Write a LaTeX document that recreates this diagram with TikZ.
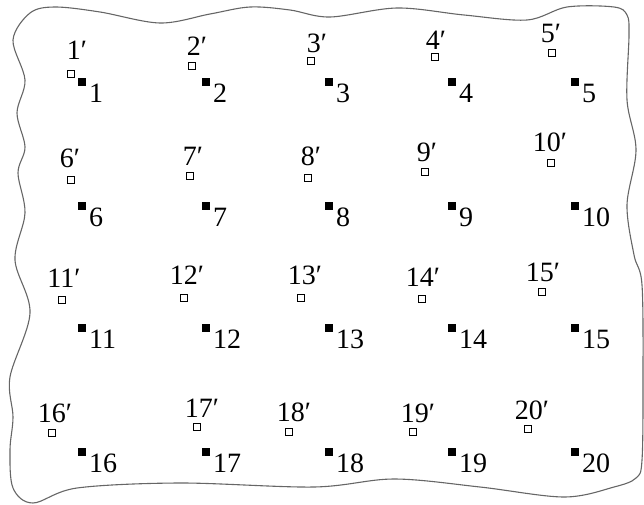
\documentclass[tikz,border=0pt]{standalone}
\usepackage{fontspec}
\setmainfont{Liberation Serif}
\begin{document}
\begin{tikzpicture}[x=1pt,y=-1pt,
  full/.style={rectangle,fill=black,minimum size=7.5pt,inner sep=0pt},
  hollow/.style={rectangle,draw=black,fill=white,line width=1.1pt,minimum size=6.5pt,inner sep=0pt},
  lab/.style={font=\fontsize{28}{28}\selectfont,inner sep=0pt},
  border/.style={draw=black!60,line width=1.1pt}]
\useasboundingbox (0,0) rectangle (644,505);
\draw[border] plot[smooth cycle,tension=0.55] coordinates {
 (30,13) (55,7) (100,12) (160,23) (210,14) (250,7) (290,10) (330,17) (397,8)
 (464,15) (527,20) (567,7) (614,7) (627,15) (629,35) (627,100) (636,150)
 (627,205) (634,255) (642,285) (643,380) (642,460) (636,478) (614,487)
 (564,497) (480,487) (394,479) (314,487) (180,483) (77,488) (33,503)
 (13,488) (10,450) (13,417) (10,377) (30,313) (15,260) (25,213) (18,173)
 (25,147) (17,113) (25,80) (13,40)};
\foreach \i/\fx/\fy/\ox/\oy/\px/\py in {
 1/82/82/71/74/77/50, 2/206/82/192/66/197/46, 3/329/82/311/61/317/43,
 4/452/82/435/57/436/40, 5/575/82/552/53/551/33,
 6/82/206/71/180/70/158, 7/206/206/190/176/193/156, 8/329/206/308/178/311/156,
 9/452/206/425/172/427/152, 10/575/206/551/163/550/142,
 11/82/328/62/300/64/278, 12/206/328/184/298/187/275, 13/329/328/301/298/305/275,
 14/452/328/422/299/423/277, 15/575/328/542/292/543/272,
 16/82/452/52/433/55/413, 17/206/452/197/427/202/408, 18/329/452/289/432/294/412,
 19/452/452/413/432/418/413, 20/575/452/528/429/532/410}{
  \node[full] (f\i) at (\fx,\fy) {};
  \node[lab,anchor=west] (l\i) at ([xshift=7pt,yshift=-11pt]f\i.center) {\i};
  \node[hollow] (o\i) at (\ox,\oy) {};
  \node[lab] (p\i) at (\px,\py) {\i′};
}
\end{tikzpicture}
\end{document}
